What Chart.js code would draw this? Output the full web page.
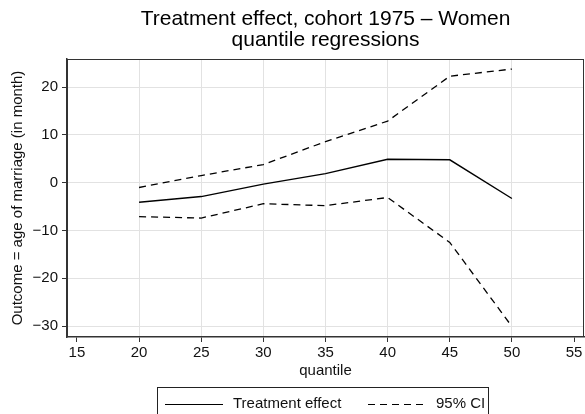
<!DOCTYPE html>
<html>
<head>
<meta charset="utf-8">
<script src="https://cdn.jsdelivr.net/npm/chart.js@4/dist/chart.umd.min.js"></script>
<style>
  html, body { margin: 0; padding: 0; background: #fff; }
  #wrap { position: relative; width: 585px; height: 414px; overflow: hidden; }
  #grafico { position: absolute; left: 0; top: 0; }
  #leyenda {
    position: absolute; left: 157px; top: 387px; width: 332px; height: 40px;
    border: 1px solid #222; box-sizing: border-box;
    font-family: "Liberation Sans", Arial, sans-serif; font-size: 15px; color: #111;
  }
  .item { position: absolute; top: 6px; line-height: 18px; white-space: nowrap; }
  .muestra { display: inline-block; width: 58px; height: 1px; vertical-align: middle; margin-right: 10px; }
  .solida { background: #000; }
  .discontinua { background: repeating-linear-gradient(to right, #000 0, #000 7px, transparent 7px, transparent 12px); width: 60px; margin-right: 8px; }
</style>
</head>
<body>
<div id="wrap">
  <canvas id="grafico" width="585" height="414"></canvas>
  <div id="leyenda">
    <span class="item" style="left:7px"><span class="muestra solida"></span><span id="lab0"></span></span>
    <span class="item" style="left:210px"><span class="muestra discontinua"></span><span id="lab1"></span></span>
  </div>
</div>
<script>
// Datos
const cuantiles = [20, 25, 30, 35, 40, 45, 50];
const efecto = [-4.1, -2.9, -0.3, 1.9, 4.9, 4.8, -3.3];
const icSuperior = [-1.0, 1.5, 3.8, 8.6, 12.9, 22.3, 23.8];
const icInferior = [-7.1, -7.4, -4.4, -4.8, -3.1, -12.5, -30.1];
const ticksX = [15, 20, 25, 30, 35, 40, 45, 50, 55];
const ticksY = [-30, -20, -10, 0, 10, 20];
const etiquetas = ["Treatment effect", "95% CI"];

const fuente = '"Liberation Sans", Arial, sans-serif';
const puntos = (ys) => cuantiles.map((x, i) => ({ x: x, y: ys[i] }));
const menos = (v) => String(v).replace('-', '\u2212');

document.getElementById("lab0").textContent = etiquetas[0];
document.getElementById("lab1").textContent = etiquetas[1];

// Marco superior y derecho del área del gráfico
const marco = {
  id: "marco",
  afterDraw(chart) {
    const { ctx, chartArea: a } = chart;
    ctx.save();
    ctx.strokeStyle = "#333";
    ctx.lineWidth = 1;
    ctx.strokeRect(a.left + 0.5, a.top + 0.5, a.right - a.left - 1, a.bottom - a.top - 1);
    ctx.restore();
  }
};

new Chart(document.getElementById("grafico").getContext("2d"), {
  type: "line",
  data: {
    datasets: [
      { label: etiquetas[0], data: puntos(efecto), borderColor: "#000", borderWidth: 1.4 },
      { label: etiquetas[1], data: puntos(icSuperior), borderColor: "#000", borderWidth: 1.3, borderDash: [7, 5] },
      { label: etiquetas[1], data: puntos(icInferior), borderColor: "#000", borderWidth: 1.3, borderDash: [7, 5] }
    ]
  },
  options: {
    responsive: false,
    animation: false,
    layout: { padding: { left: 0, right: 1, top: 0, bottom: 27 } },
    elements: { point: { radius: 0 }, line: { tension: 0 } },
    plugins: {
      legend: { display: false },
      tooltip: { enabled: false },
      title: {
        display: true,
        fullSize: false,
        text: ["Treatment effect, cohort 1975 \u2013 Women", "quantile regressions"],
        color: "#000",
        font: { family: fuente, size: 21, weight: "normal", lineHeight: "21px" },
        padding: { top: 9, bottom: 8 }
      }
    },
    scales: {
      x: {
        type: "linear",
        min: 14.2,
        max: 55.8,
        afterBuildTicks: (s) => { s.ticks = ticksX.map((v) => ({ value: v })); },
        afterFit: (s) => { s.height = 50; },
        ticks: { color: "#111", font: { family: fuente, size: 15 }, padding: 2, maxRotation: 0 },
        grid: {
          color: (c) => (c.tick && (c.tick.value === 15 || c.tick.value === 55)) ? "rgba(0,0,0,0)" : "#e2e2e2",
          tickColor: "#333",
          tickLength: 5,
          lineWidth: 1
        },
        border: { color: "#333", width: 1.5 },
        title: { display: true, text: "quantile", color: "#111", font: { family: fuente, size: 15, lineHeight: 1.2 }, padding: { top: 0, bottom: 7 } }
      },
      y: {
        min: -32.3,
        max: 25.9,
        afterBuildTicks: (s) => { s.ticks = ticksY.map((v) => ({ value: v })); },
        afterFit: (s) => { s.width = 67; },
        ticks: { color: "#111", font: { family: fuente, size: 15 }, padding: 4, callback: (v) => menos(v) },
        grid: { color: "#e2e2e2", tickColor: "#333", tickLength: 5, lineWidth: 1 },
        border: { color: "#333", width: 1.5 },
        title: { display: true, text: "Outcome = age of marriage (in month)", color: "#111", font: { family: fuente, size: 15, lineHeight: 1.2 }, padding: { top: 9, bottom: 0 } }
      }
    }
  },
  plugins: [marco]
});
</script>
</body>
</html>
